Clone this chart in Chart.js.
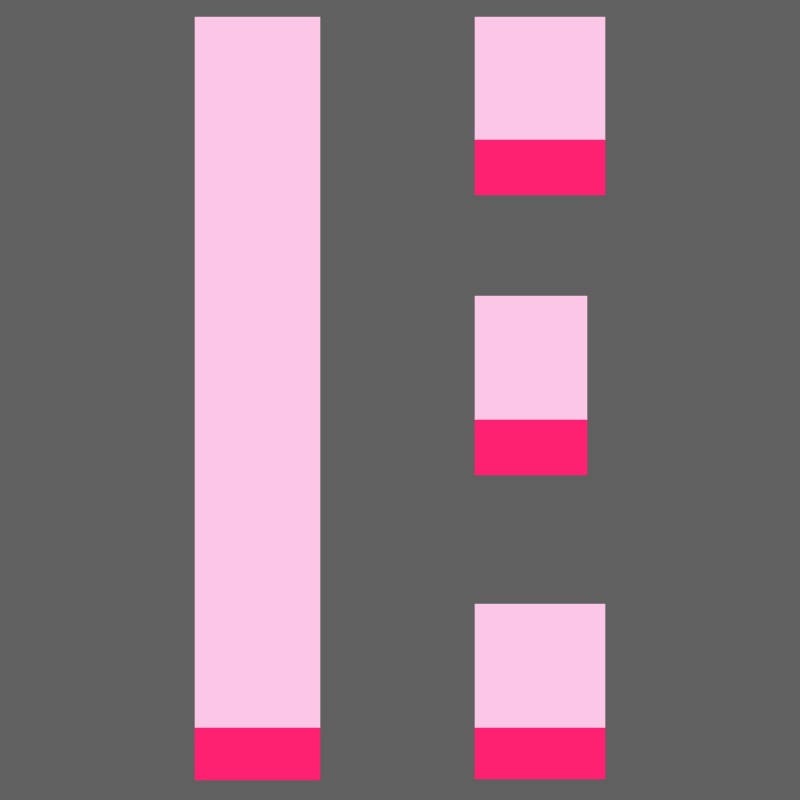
<!DOCTYPE html>
<html>
<head>
<meta charset="utf-8">
<script src="https://cdn.jsdelivr.net/npm/chart.js@4/dist/chart.umd.min.js"></script>
<style>
  html, body { margin: 0; padding: 0; background: #606060; }
  #grafico { display: block; }
</style>
</head>
<body>
<canvas id="grafico" width="800" height="800"></canvas>
<script>
// blocks (value axis 0..800, bottom up)
const blocks = ['A', 'B', 'C', 'D'];
const blockX = [257.5, 540, 531, 540];
const blockBase = [20, 605, 325, 21];
const darkTop = [72, 660, 380, 72];
const blockTop = [783, 783, 504, 196];

const widths = [125, 130, 112, 130];
const lightColor = '#fcc6e6';
const darkColor = '#fe2172';

const datasets = [];
blocks.forEach((name, i) => {
  datasets.push({
    label: name + ' base',
    data: [{ x: blockX[i], y: [blockBase[i], darkTop[i]] }],
    backgroundColor: darkColor,
    barThickness: widths[i],
    grouped: false
  });
  datasets.push({
    label: name + ' rest',
    data: [{ x: blockX[i], y: [darkTop[i], blockTop[i]] }],
    backgroundColor: lightColor,
    barThickness: widths[i],
    grouped: false
  });
});

const ctx = document.getElementById('grafico').getContext('2d');

const chart = new Chart(ctx, {
  type: 'bar',
  data: { datasets },
  options: {
    responsive: false,
    animation: false,
    devicePixelRatio: 1,
    layout: { padding: 0 },
    plugins: {
      legend: { display: false },
      tooltip: { enabled: false }
    },
    scales: {
      x: { type: 'linear', min: 0, max: 800, offset: false, display: false },
      y: { type: 'linear', min: 0, max: 800, display: false }
    }
  }
});
</script>
</body>
</html>
